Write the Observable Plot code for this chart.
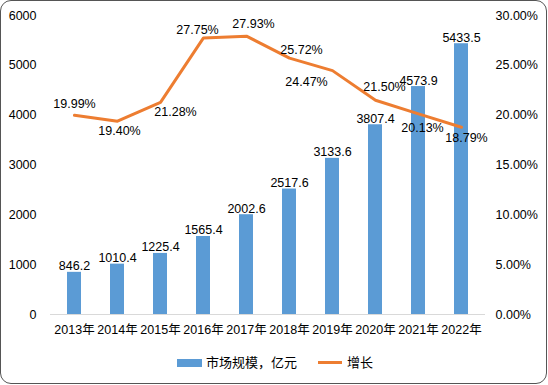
<!DOCTYPE html>
<html>
<head>
<meta charset="utf-8">
<script src="https://cdn.jsdelivr.net/npm/d3@7"></script>
<script src="https://cdn.jsdelivr.net/npm/@observablehq/plot@0.6"></script>
<style>
  html, body { margin: 0; padding: 0; background: #fff; }
  body { width: 548px; height: 385px; position: relative; overflow: hidden;
         font-family: "Liberation Sans", "Noto Sans CJK SC", sans-serif; }
  #frame { position: absolute; left: 0; top: 0; width: 545px; height: 382px;
           border: 1px solid #555; border-radius: 11px; box-sizing: content-box; }
  #chart { position: absolute; left: 0; top: 0; }
  .lg { position: absolute; font-size: 13px; color: #000; line-height: 16px;
        font-family: "Noto Sans CJK SC", sans-serif; }
</style>
</head>
<body>
<div id="frame"></div>
<div id="chart"></div>
<div class="lg" style="left:177px;top:359px;width:25px;height:8px;background:#5B9BD5"></div>
<div class="lg" style="left:206px;top:354px;">市场规模，亿元</div>
<div class="lg" style="left:318px;top:361px;width:24px;height:3px;background:#ED7D31"></div>
<div class="lg" style="left:347px;top:354px;">增长</div>
<script>
const years = ["2013年","2014年","2015年","2016年","2017年","2018年","2019年","2020年","2021年","2022年"];
const marketSize = [846.2, 1010.4, 1225.4, 1565.4, 2002.6, 2517.6, 3133.6, 3807.4, 4573.9, 5433.5];
const growth = [19.99, 19.40, 21.28, 27.75, 27.93, 25.72, 24.47, 21.50, 20.13, 18.79];
const leftTicks = [0, 1000, 2000, 3000, 4000, 5000, 6000];
const rightTicks = [0, 5, 10, 15, 20, 25, 30];
// label offsets (dx, dy) for the growth labels
const growthLabelOffsets = [[0,-11],[2,10],[15,10],[-6,-8],[7,-12],[12,-8],[-26,11],[9,-13],[4,14],[5,11]];

const scaleFactor = 6000 / 30; // percent -> left-axis units
const rows = years.map((year, i) => ({year, size: marketSize[i], growth: growth[i]}));

const blue = "#5B9BD5", orange = "#ED7D31";

const plot = Plot.plot({
  width: 548,
  height: 345,
  marginLeft: 50,
  marginRight: 63,
  marginTop: 15,
  marginBottom: 31,
  style: {fontFamily: '"Liberation Sans", "Noto Sans CJK SC", sans-serif', fontSize: "12.5px", color: "#000", background: "transparent"},
  x: {type: "band", domain: years, paddingInner: 0.68, paddingOuter: 0.34},
  y: {domain: [0, 6000]},
  marks: [
    Plot.ruleY([0], {stroke: "#d9d9d9", strokeWidth: 1}),
    Plot.barY(rows, {x: "year", y: "size", fill: blue}),
    Plot.text(rows, {x: "year", y: "size", text: d => d.size.toFixed(1), lineAnchor: "bottom", dy: -2, fill: "#000"}),
    Plot.line(rows, {x: "year", y: d => d.growth * scaleFactor, stroke: orange, strokeWidth: 3, strokeLinejoin: "round", strokeLinecap: "round"}),
    ...growthLabelOffsets.map(([dx, dy], i) =>
      Plot.text([rows[i]], {x: "year", y: d => d.growth * scaleFactor, text: d => d.growth.toFixed(2) + "%", dx, dy, fill: "#000"})
    ),
    Plot.axisX({tickSize: 0, tickPadding: 11, label: null, fill: "#000"}),
    Plot.axisY(leftTicks, {anchor: "left", tickSize: 0, tickPadding: 14, label: null, tickFormat: d => String(d), fill: "#000"}),
    Plot.axisY(rightTicks.map(t => t * scaleFactor), {anchor: "right", tickSize: 0, tickPadding: 10, label: null, tickFormat: d => (d / scaleFactor).toFixed(2) + "%", fill: "#000"})
  ]
});
document.getElementById("chart").appendChild(plot);
</script>
</body>
</html>
